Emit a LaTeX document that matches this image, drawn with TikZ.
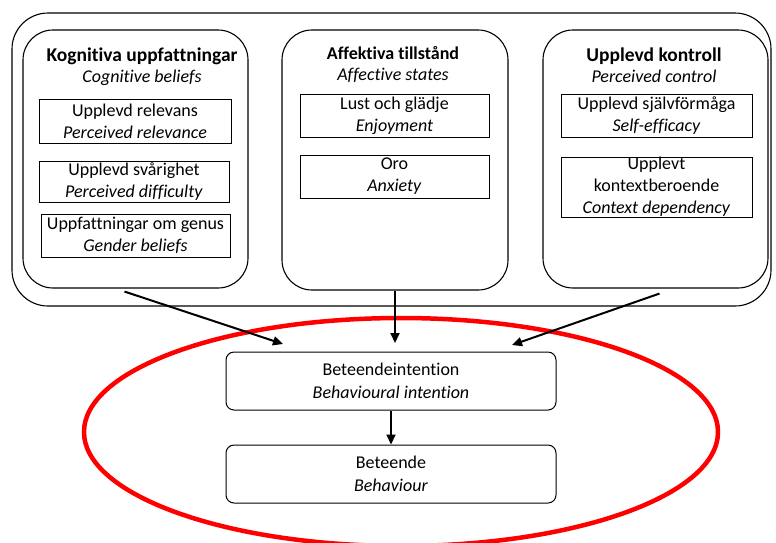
\documentclass[tikz,border=0pt]{standalone}
\usepackage{fontspec}
\setmainfont[Ligatures=NoCommon]{Carlito}
\usetikzlibrary{arrows.meta}
\begin{document}
\begin{tikzpicture}[x=1pt,y=-1pt,
  group/.style={draw, line width=1.1pt, rounded corners=30pt, inner sep=0pt},
  itembox/.style={draw, line width=1pt, inner sep=0pt, align=center,
    font=\fontsize{18}{22}\selectfont},
  flowbox/.style={draw, line width=1pt, rounded corners=8pt, inner sep=0pt,
    align=center, minimum width=330pt, minimum height=58pt,
    font=\fontsize{18}{23}\selectfont},
  heading/.style={align=center, inner sep=0pt, font=\fontsize{18}{21}\selectfont},
  link/.style={line width=2pt, -{Triangle[length=10pt,width=9pt]}}]
\useasboundingbox (0,0) rectangle (776,542);

% outer frame and the three groups
\node[group, rounded corners=36pt, minimum width=759pt, minimum height=293pt] (outer) at (391.5,159.5) {};
\node[group, minimum width=225pt, minimum height=258pt] (cog) at (135.5,159) {};
\node[group, minimum width=226pt, minimum height=260pt] (aff) at (395,160) {};
\node[group, minimum width=225pt, minimum height=258pt] (ctl) at (655.5,159) {};

% group headings
\node[heading] (cogh) at (142,67) {\textbf{\fontsize{19.5}{21}\selectfont Kognitiva uppfattningar}\\\textit{Cognitive beliefs}};
\node[heading] (affh) at (393,65) {\textbf{Affektiva tillstånd}\\\textit{Affective states}};
\node[heading] (ctlh) at (654,65) {\textbf{\fontsize{19.5}{21}\selectfont Upplevd kontroll}\\\textit{Perceived control}};

% items of the cognitive group
\node[itembox, minimum width=192pt, minimum height=44pt] (rel) at (135,121) {Upplevd relevans\\\textit{Perceived relevance}};
\node[itembox, minimum width=190pt, minimum height=41pt] (dif) at (134,181.5) {Upplevd svårighet\\\textit{Perceived difficulty}};
\node[itembox, minimum width=189pt, minimum height=43pt] (gen) at (135.5,235.5) {Uppfattningar om genus\\\textit{Gender beliefs}};

% items of the affective group
\node[itembox, minimum width=189pt, minimum height=43pt] (joy) at (394.5,115.5) {Lust och glädje\\\textit{Enjoyment}};
\node[itembox, minimum width=189pt, minimum height=43pt] (anx) at (394.5,176.5) {Oro\\\textit{Anxiety}};

% items of the control group
\node[itembox, minimum width=191pt, minimum height=43pt] (eff) at (656.5,115.5) {Upplevd självförmåga\\\textit{Self-efficacy}};
\node[itembox, minimum width=191pt, minimum height=60pt] (ctx) at (656.5,187) {Upplevt\\kontextberoende\\\textit{Context dependency}};

% intention and behaviour
\node[flowbox] (intent) at (391,381) {Beteendeintention\\\textit{Behavioural intention}};
\node[flowbox] (behav) at (391,474) {Beteende\\\textit{Behaviour}};

\draw[red, line width=4.5pt] (401,432) ellipse [x radius=317pt, y radius=114pt];

% influences
\coordinate (cogend) at (283,344);
\coordinate (affend) at (395,343);
\coordinate (ctlend) at (512,345);
\draw[link] ([xshift=-11pt,yshift=-3pt]cog.south) -- (cogend);
\draw[link] (aff.south) -- (affend);
\draw[link] ([xshift=4pt,yshift=-5pt]ctl.south) -- (ctlend);
\draw[link] (intent.south) -- (behav.north);
\end{tikzpicture}
\end{document}
